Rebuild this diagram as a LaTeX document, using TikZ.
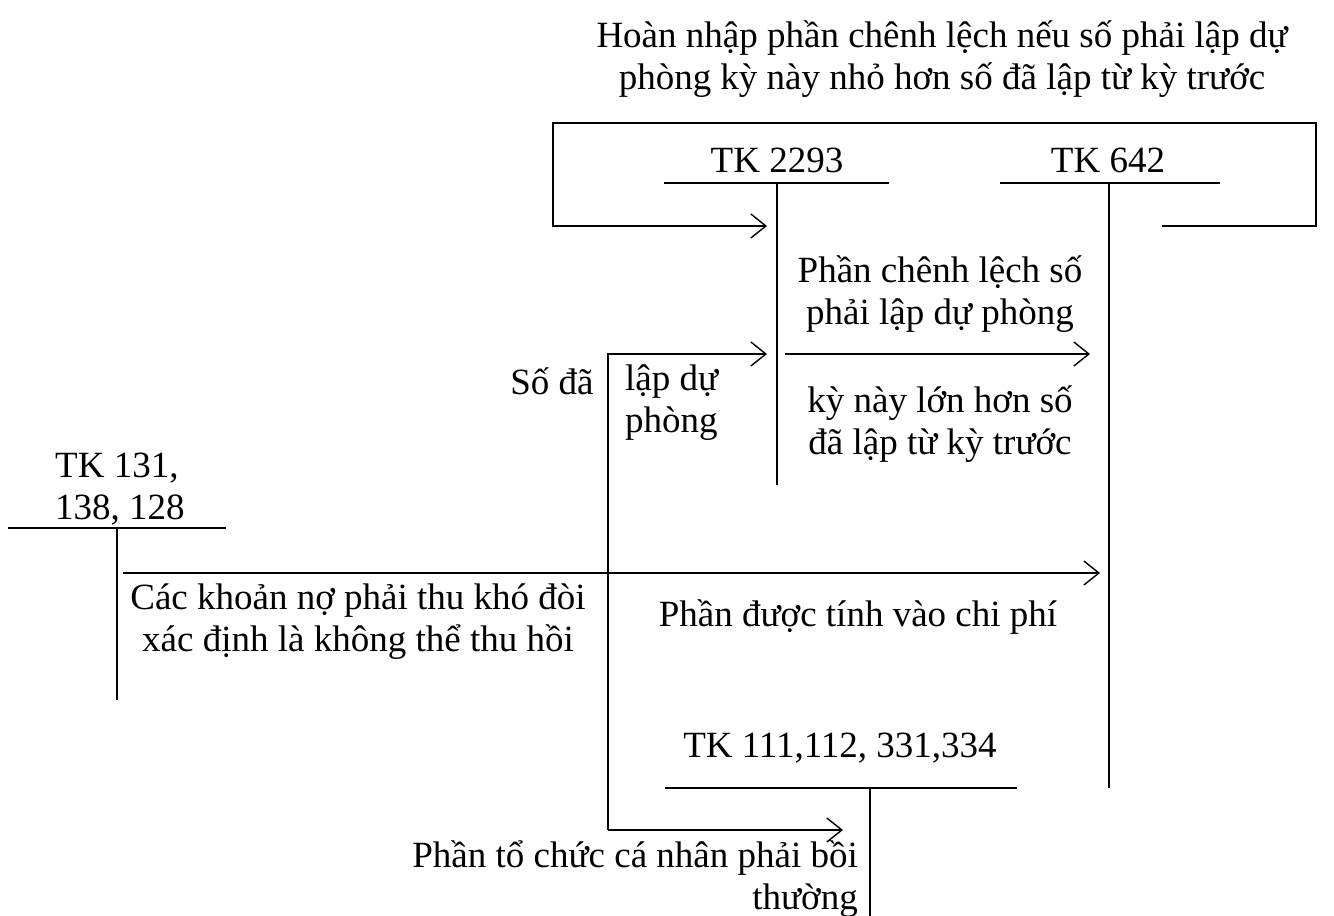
\documentclass[tikz,border=0pt]{standalone}
\usepackage{fontspec}
\setmainfont{Liberation Serif}
\usetikzlibrary{arrows.meta}
\begin{document}
\begin{tikzpicture}[x=1pt,y=-1pt,
  txt/.style={inner sep=0pt,font=\fontsize{37}{42}\selectfont},
  ln/.style={line width=1.4pt},
  arr/.style={line width=1.4pt,-{Straight Barb[length=15pt,width=24pt,line width=1.4pt]}}]
\useasboundingbox (0,0) rectangle (1334,916);
% account labels
\node[txt] (t2293) at (777,160) {TK 2293};
\node[txt] (t642) at (1108,160) {TK 642};
\node[txt,align=left,anchor=west] (t131) at (55,489) {TK 131,\\138, 128};
\node[txt] (t111) at (840,748) {TK 111,112, 331,334};
% T-accounts
\coordinate (a1l) at (664,183); \coordinate (a1r) at (889,183);
\coordinate (a1t) at (777,183); \coordinate (a1b) at (777,485);
\coordinate (a2l) at (1000,183); \coordinate (a2r) at (1220,183);
\coordinate (a2t) at (1109,183); \coordinate (a2b) at (1109,788);
\coordinate (a3l) at (8,528); \coordinate (a3r) at (226,528);
\coordinate (a3t) at (117,528); \coordinate (a3b) at (117,700);
\coordinate (a4l) at (665,788); \coordinate (a4r) at (1017,788);
\coordinate (a4t) at (870,788); \coordinate (a4b) at (870,916);
\draw[ln] (a1l) -- (a1r) (a1t) -- (a1b);
\draw[ln] (a2l) -- (a2r) (a2t) -- (a2b);
\draw[ln] (a3l) -- (a3r) (a3t) -- (a3b);
\draw[ln] (a4l) -- (a4r) (a4t) -- (a4b);
% top loop
\coordinate (p1) at (1162,226); \coordinate (p2) at (1316,226);
\coordinate (p3) at (1316,123); \coordinate (p4) at (553,123);
\coordinate (p5) at (553,226); \coordinate (p6) at (767,226);
\draw[arr] (p1) -- (p2) -- (p3) -- (p4) -- (p5) -- (p6);
\node[txt,align=center] (top) at (942,59) {Hoàn nhập phần chênh lệch nếu số phải lập dự\\phòng kỳ này nhỏ hơn số đã lập từ kỳ trước};
% arrow 2293 -> 642
\coordinate (q1) at (785,354); \coordinate (q2) at (1090,354);
\draw[arr] (q1) -- (q2);
\node[txt,align=center] (up) at (940,294) {Phần chênh lệch số\\phải lập dự phòng};
\node[txt,align=center] (down) at (940,424) {kỳ này lớn hơn số\\đã lập từ kỳ trước};
% reversal from 131
\coordinate (r0) at (608,830); \coordinate (r1) at (608,354); \coordinate (r2) at (767,354);
\coordinate (r3) at (843,830);
\draw[arr] (r0) -- (r1) -- (r2);
\draw[arr] (r0) -- (r3);
\node[txt] (soda) at (552,381) {Số đã};
\node[txt,align=left,anchor=west] (lapdu) at (625,403) {lập dự\\phòng};
% main arrow
\coordinate (s1) at (123,573); \coordinate (s2) at (1100,573);
\draw[arr] (s1) -- (s2);
\node[txt,align=center] (cac) at (358,622) {Các khoản nợ phải thu khó đòi\\xác định là không thể thu hồi};
\node[txt] (phan) at (858,617) {Phần được tính vào chi phí};
\node[txt,align=right,anchor=east] (boi) at (858,879) {Phần tổ chức cá nhân phải bồi\\thường};
\end{tikzpicture}
\end{document}
